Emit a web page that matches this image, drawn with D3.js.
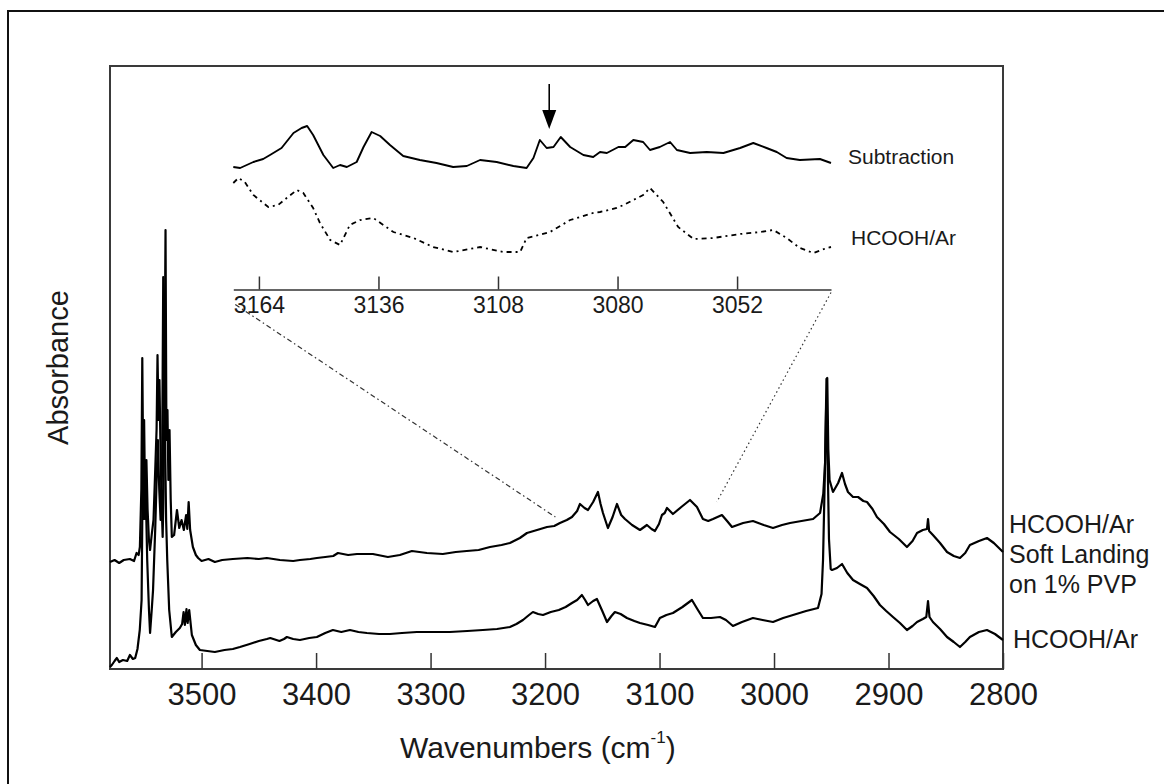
<!DOCTYPE html>
<html>
<head>
<meta charset="utf-8">
<script src="https://cdn.jsdelivr.net/npm/d3@7"></script>
<style>
  html, body { margin: 0; padding: 0; background: #fff; }
  svg { display: block; }
  text { font-family: "Liberation Sans", Arial, Helvetica, sans-serif; fill: #1a1a1a; }
</style>
</head>
<body>
<svg id="chart" width="1164" height="784"></svg>
<script>
// ---- Data: [wavenumber (cm^-1), absorbance (offset, a.u.)] ----
const softLanding = [
  [3580,0.107],[3576,0.109],[3572,0.106],[3568,0.109],[3562.6,0.110],[3559,0.108],[3556.8,0.116],[3555,0.114],
  [3553.9,0.122],[3552.6,0.180],[3551.8,0.311],[3551,0.200],[3550.2,0.249],[3549.2,0.150],[3548.2,0.209],[3547.2,0.160],
  [3546,0.129],[3545,0.119],[3543.5,0.135],[3542,0.149],[3540.5,0.199],[3539.3,0.240],[3538.5,0.314],[3537.6,0.249],
  [3536.8,0.289],[3536,0.229],[3535,0.169],[3534,0.132],[3533.2,0.180],[3532.3,0.300],[3531.5,0.439],[3530.7,0.229],
  [3529.8,0.259],[3529,0.189],[3528,0.239],[3527,0.170],[3526,0.132],[3524,0.134],[3521.5,0.159],[3519.5,0.141],
  [3517.5,0.149],[3515.5,0.139],[3513.5,0.154],[3512.5,0.140],[3511.3,0.167],[3510,0.139],[3507.6,0.122],[3505,0.114],
  [3503,0.111],[3500,0.108],[3494,0.110],[3488.4,0.107],[3482,0.109],[3472.7,0.110],[3460,0.111],[3450,0.110],
  [3443,0.111],[3431.6,0.109],[3420,0.108],[3414.1,0.109],[3405,0.110],[3399.3,0.111],[3392,0.112],[3385,0.113],
  [3380.9,0.116],[3372,0.114],[3364.3,0.115],[3350.4,0.115],[3337.3,0.112],[3326.8,0.114],[3316.3,0.118],[3303.2,0.116],
  [3289.3,0.115],[3278,0.117],[3268.4,0.118],[3258,0.119],[3248.1,0.122],[3238,0.124],[3230.7,0.126],[3222,0.131],
  [3215.8,0.136],[3207,0.139],[3198.3,0.142],[3192,0.143],[3187,0.146],[3181,0.149],[3176.5,0.152],[3172,0.158],
  [3169.5,0.165],[3165.5,0.161],[3162.5,0.159],[3158,0.167],[3153.8,0.177],[3151.5,0.165],[3149.4,0.156],[3145.1,0.141],
  [3141,0.152],[3137.2,0.165],[3133.5,0.154],[3130.2,0.150],[3124,0.144],[3117.1,0.139],[3111,0.144],[3107,0.140],
  [3104,0.138],[3100.5,0.145],[3097.9,0.154],[3095.5,0.156],[3093.5,0.161],[3088.3,0.155],[3081,0.162],[3073.4,0.169],
  [3067.3,0.162],[3062.1,0.150],[3057.5,0.148],[3053.3,0.150],[3045.5,0.154],[3041,0.148],[3036.7,0.142],[3027,0.146],
  [3018.4,0.148],[3009,0.144],[3000.9,0.141],[2993,0.144],[2986,0.146],[2976,0.148],[2965.9,0.150],[2959.8,0.156],
  [2957,0.175],[2955.4,0.206],[2954.2,0.290],[2953.5,0.291],[2952.6,0.220],[2951.5,0.189],[2948.5,0.177],[2944,0.186],
  [2940.6,0.196],[2938,0.185],[2935.4,0.177],[2931,0.172],[2926.6,0.172],[2922,0.168],[2918.8,0.167],[2914,0.160],
  [2910.1,0.152],[2904,0.145],[2898.7,0.137],[2891,0.130],[2883.9,0.122],[2879,0.128],[2875.1,0.136],[2870,0.139],
  [2866.4,0.140],[2865.5,0.150],[2864.5,0.138],[2861.2,0.134],[2855,0.126],[2848.9,0.117],[2843,0.113],[2837.6,0.111],
  [2833,0.116],[2828.9,0.124],[2821,0.128],[2814,0.131],[2808,0.126],[2800,0.117]
];

const hcoohAr = [
  [3580,0.002],[3578.4,0.004],[3576,0.008],[3574,0.011],[3572,0.007],[3568.7,0.009],[3565,0.008],[3562.6,0.014],
  [3560,0.010],[3558,0.011],[3556,0.020],[3554,0.039],[3552.4,0.069],[3551.3,0.219],[3550.2,0.150],[3549,0.190],
  [3547.5,0.109],[3546,0.060],[3545,0.036],[3543.5,0.060],[3542.4,0.079],[3540.5,0.140],[3539.3,0.189],[3538.2,0.229],
  [3537,0.180],[3535.8,0.149],[3534.5,0.200],[3533.5,0.392],[3532.6,0.300],[3532,0.239],[3531,0.150],[3530,0.109],
  [3528.3,0.059],[3526,0.032],[3522.5,0.037],[3519,0.041],[3517,0.045],[3515.7,0.057],[3514.6,0.044],[3513.2,0.060],
  [3512.2,0.046],[3510.8,0.059],[3508.5,0.034],[3505,0.024],[3501.5,0.019],[3495,0.018],[3488.4,0.017],[3480,0.019],
  [3472.7,0.020],[3466.5,0.022],[3458,0.025],[3450,0.028],[3443,0.030],[3440,0.031],[3432,0.028],[3428,0.030],
  [3425.5,0.032],[3420,0.030],[3414.1,0.029],[3406,0.031],[3399.3,0.032],[3392,0.036],[3385.3,0.039],[3378,0.037],
  [3370.4,0.039],[3363,0.037],[3355.6,0.036],[3345,0.035],[3335.5,0.035],[3325,0.036],[3312,0.037],[3298,0.037],
  [3283.2,0.037],[3268,0.038],[3254.3,0.039],[3242,0.040],[3230.7,0.042],[3225,0.045],[3219.3,0.049],[3214,0.054],
  [3210.6,0.057],[3206,0.055],[3201.8,0.054],[3195,0.057],[3188,0.059],[3182,0.062],[3176.5,0.066],[3172,0.069],
  [3167.8,0.074],[3165,0.069],[3162.5,0.064],[3158,0.068],[3154.7,0.070],[3150,0.058],[3145.9,0.047],[3142,0.053],
  [3139,0.057],[3134,0.055],[3128.5,0.051],[3122,0.048],[3117.1,0.046],[3110,0.044],[3104,0.042],[3099.7,0.051],
  [3094,0.054],[3088.3,0.056],[3080,0.062],[3071.7,0.069],[3067,0.060],[3062.1,0.051],[3055,0.051],[3047.2,0.052],
  [3042,0.049],[3035.9,0.043],[3028,0.047],[3018.4,0.051],[3010,0.049],[3000.9,0.047],[2992,0.051],[2983.4,0.054],
  [2972,0.058],[2961.6,0.061],[2958.5,0.075],[2957.2,0.109],[2955.5,0.200],[2954.5,0.262],[2953.5,0.230],[2952,0.130],
  [2950.5,0.100],[2949.3,0.099],[2945,0.101],[2940.6,0.105],[2936,0.096],[2931,0.089],[2925,0.085],[2918.8,0.081],
  [2913,0.073],[2907.5,0.064],[2902,0.058],[2896.1,0.052],[2890,0.046],[2883.9,0.039],[2879,0.043],[2875.1,0.047],
  [2870,0.050],[2867,0.052],[2865.5,0.068],[2864.2,0.052],[2861.2,0.047],[2855,0.040],[2848.9,0.032],[2843,0.027],
  [2837.6,0.022],[2833,0.027],[2828.9,0.032],[2821,0.037],[2814,0.039],[2807,0.035],[2800,0.029]
];

// Expanded 3170–3030 cm^-1 window
const insetSubtraction = [
  [3170,0.093],[3168.4,0.092],[3165.3,0.098],[3163,0.101],[3161.4,0.105],[3158.7,0.112],[3155.9,0.127],[3154,0.132],
  [3152.7,0.134],[3151.3,0.125],[3148.9,0.105],[3146.6,0.092],[3145,0.095],[3143.4,0.093],[3141.1,0.098],[3139.5,0.113],
  [3137.6,0.128],[3135.6,0.124],[3133.3,0.115],[3130.2,0.104],[3126.3,0.100],[3122.4,0.097],[3118.5,0.093],[3115.3,0.094],
  [3112.2,0.100],[3108.3,0.098],[3104.4,0.094],[3101.3,0.092],[3099.7,0.102],[3098.2,0.120],[3096.6,0.112],[3095,0.113],
  [3093.3,0.123],[3091.1,0.113],[3088,0.105],[3085.7,0.103],[3084.1,0.108],[3082.5,0.107],[3079.8,0.113],[3078.2,0.113],
  [3076.3,0.120],[3074,0.118],[3072.4,0.110],[3070.1,0.113],[3067.7,0.118],[3066.1,0.110],[3063,0.107],[3059.1,0.108],
  [3055.2,0.107],[3051.3,0.112],[3048.2,0.117],[3045.1,0.112],[3042.7,0.108],[3040.4,0.102],[3037.3,0.100],[3032.6,0.101],
  [3030,0.097]
];

const insetHcoohAr = [
  [3170,0.077],[3168.8,0.082],[3167.3,0.078],[3165.3,0.065],[3161.8,0.053],[3159.5,0.055],[3157.5,0.062],[3155.1,0.070],
  [3153.6,0.067],[3151.3,0.052],[3149.7,0.037],[3147.3,0.020],[3145,0.015],[3142.7,0.035],[3140.3,0.040],[3137.2,0.042],
  [3132.5,0.028],[3127.8,0.022],[3123.2,0.013],[3118.5,0.008],[3112.2,0.013],[3106.8,0.008],[3102.8,0.008],[3101.3,0.022],
  [3095.8,0.028],[3091.1,0.040],[3085.7,0.047],[3084.1,0.048],[3080.2,0.052],[3078.6,0.055],[3074,0.065],[3072.4,0.072],
  [3069.3,0.058],[3065.8,0.033],[3062.2,0.021],[3057.6,0.022],[3051.3,0.026],[3046.6,0.028],[3043.5,0.030],[3040.4,0.022],
  [3037.3,0.012],[3034.1,0.007],[3031,0.012],[3030,0.013]
];

const mainTicks = [3500, 3400, 3300, 3200, 3100, 3000, 2900, 2800];
const insetTicks = [3164, 3136, 3108, 3080, 3052];
const markedBand = 3096;              // arrow in the expanded view
const zoomEnds = { left: [3191, 0.152], right: [3050, 0.167] }; // where the window meets the spectrum
const insetRange = [3170, 3030];

// ---- Layout ----
const svg = d3.select("#chart");
const plot = { left: 110, right: 1003, top: 66, bottom: 669 };

const x = d3.scaleLinear().domain([3580, 2800]).range([plot.left, plot.right]);
const y = d3.scaleLinear().domain([0, 0.603]).range([plot.bottom, plot.top]);

const ix = d3.scaleLinear().domain(insetRange).range([233.3, 831]);
const iy = d3.scaleLinear().domain([0, 0.15]).range([260, 110]);
const insetAxisY = 289.5;

// outer frame
svg.append("rect")
  .attr("x", 8).attr("y", 11).attr("width", 1200).attr("height", 800)
  .attr("fill", "none").attr("stroke", "#111").attr("stroke-width", 2);

// plot frame
svg.append("rect")
  .attr("x", plot.left).attr("y", plot.top)
  .attr("width", plot.right - plot.left).attr("height", plot.bottom - plot.top)
  .attr("fill", "none").attr("stroke", "#3a3a3a").attr("stroke-width", 2);

// main x axis: inward ticks
const xAxis = d3.axisBottom(x).tickValues(mainTicks).tickSizeInner(-16).tickSizeOuter(0).tickPadding(12)
  .tickFormat(d3.format("d"));
const gx = svg.append("g").attr("transform", `translate(0,${plot.bottom})`).call(xAxis);
gx.select(".domain").remove();
gx.selectAll(".tick line").attr("stroke", "#333").attr("stroke-width", 1.5);
gx.selectAll(".tick text").attr("font-size", 31).attr("fill", "#1a1a1a")
  .attr("font-family", "\"Liberation Sans\", Arial, sans-serif").attr("dy", "0.78em");

// axis titles
const xt = svg.append("text").attr("x", 400).attr("y", 758).attr("font-size", 30);
xt.append("tspan").text("Wavenumbers (cm");
xt.append("tspan").attr("font-size", 17).attr("dy", -15).text("-1");
xt.append("tspan").attr("dy", 15).text(")");

svg.append("text")
  .attr("transform", `translate(68,${(plot.top + plot.bottom) / 2}) rotate(-90)`)
  .attr("text-anchor", "middle").attr("font-size", 29).text("Absorbance");

// main spectra
const line = d3.line().x(d => x(d[0])).y(d => y(d[1]));
svg.append("path").datum(hcoohAr).attr("d", line)
  .attr("fill", "none").attr("stroke", "#000").attr("stroke-width", 2.2).attr("stroke-linejoin", "round");
svg.append("path").datum(softLanding).attr("d", line)
  .attr("fill", "none").attr("stroke", "#000").attr("stroke-width", 2.2).attr("stroke-linejoin", "round");

// trace labels
const rl = svg.append("g").attr("font-size", 25);
rl.append("text").attr("x", 1009).attr("y", 533).text("HCOOH/Ar");
rl.append("text").attr("x", 1009).attr("y", 563).text("Soft Landing");
rl.append("text").attr("x", 1009).attr("y", 593).text("on 1% PVP");
rl.append("text").attr("x", 1013).attr("y", 648).text("HCOOH/Ar");

// ---- expanded view ----
const insetAxis = d3.axisBottom(ix).tickValues(insetTicks).tickSizeInner(-13).tickSizeOuter(0).tickPadding(6)
  .tickFormat(d3.format("d"));
const gi = svg.append("g").attr("transform", `translate(0,${insetAxisY})`).call(insetAxis);
gi.select(".domain").attr("stroke", "#333").attr("stroke-width", 1.5);
gi.selectAll(".tick line").attr("stroke", "#333").attr("stroke-width", 1.5);
gi.selectAll(".tick text").attr("font-size", 23).attr("fill", "#1a1a1a")
  .attr("font-family", "\"Liberation Sans\", Arial, sans-serif").attr("dy", "0.75em");

const iline = d3.line().x(d => ix(d[0])).y(d => iy(d[1]));
svg.append("path").datum(insetSubtraction).attr("d", iline)
  .attr("fill", "none").attr("stroke", "#000").attr("stroke-width", 1.9).attr("stroke-linejoin", "round");
svg.append("path").datum(insetHcoohAr).attr("d", iline)
  .attr("fill", "none").attr("stroke", "#000").attr("stroke-width", 1.8)
  .attr("stroke-dasharray", "5,4,2,4");

svg.append("text").attr("x", 848).attr("y", 164).attr("font-size", 21).text("Subtraction");
svg.append("text").attr("x", 851).attr("y", 245).attr("font-size", 21).text("HCOOH/Ar");

// arrow marking the new band
const ax = ix(markedBand);
svg.append("line").attr("x1", ax).attr("x2", ax).attr("y1", 84).attr("y2", 118)
  .attr("stroke", "#000").attr("stroke-width", 1.6);
svg.append("path")
  .attr("d", `M${ax - 7},${110} L${ax + 7},${110} L${ax},${129} Z`)
  .attr("fill", "#000");

// connectors from expanded window to the spectrum
svg.append("line")
  .attr("x1", ix(insetRange[0]) + 2).attr("y1", insetAxisY + 15)
  .attr("x2", x(zoomEnds.left[0])).attr("y2", y(zoomEnds.left[1]))
  .attr("stroke", "#333").attr("stroke-width", 1.2).attr("stroke-dasharray", "5,3,1.5,3");
svg.append("line")
  .attr("x1", ix(insetRange[1])).attr("y1", insetAxisY + 3)
  .attr("x2", x(zoomEnds.right[0])).attr("y2", y(zoomEnds.right[1]))
  .attr("stroke", "#333").attr("stroke-width", 1.2).attr("stroke-dasharray", "1.5,3");
</script>
</body>
</html>
